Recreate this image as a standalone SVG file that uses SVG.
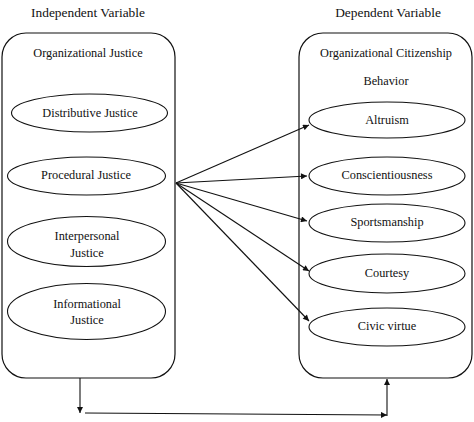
<svg xmlns="http://www.w3.org/2000/svg" width="474" height="422" viewBox="0 0 474 422" font-family="Liberation Serif, Times New Roman, serif">
<style>
text{font-size:12.3px;fill:#111;text-anchor:middle}
.title{font-size:13.4px}
.box{fill:none;stroke:#111;stroke-width:1.2}
.ell{fill:#fff;stroke:#111;stroke-width:1.1}
.conn{fill:none;stroke:#111;stroke-width:1.1}
</style>
<defs>
<marker id="ah" viewBox="0 0 10 10" refX="10" refY="5" markerWidth="7" markerHeight="6" markerUnits="userSpaceOnUse" orient="auto">
<path d="M0,0 L10,5 L0,10 Z" fill="#111"/>
</marker>
</defs>
<rect width="474" height="422" fill="#fff"/>
<text class="title" x="88" y="17">Independent Variable</text>
<text class="title" x="388" y="17">Dependent Variable</text>
<g id="independent">
<rect class="box" x="2" y="33" width="173" height="345" rx="24" ry="24"/>
<text x="88" y="57">Organizational Justice</text>
</g>
<g id="dependent">
<rect class="box" x="299" y="33" width="173" height="345" rx="24" ry="24"/>
<text x="386" y="57">Organizational Citizenship</text>
<text x="386" y="85">Behavior</text>
</g>
<g id="distributive">
<ellipse class="ell" cx="89.5" cy="113" rx="78" ry="19"/>
<text x="90" y="117">Distributive Justice</text>
</g>
<g id="procedural">
<ellipse class="ell" cx="86.5" cy="176" rx="79" ry="19"/>
<text x="86" y="179">Procedural Justice</text>
</g>
<g id="interpersonal">
<ellipse class="ell" cx="86.5" cy="241.5" rx="79" ry="25"/>
<text x="87" y="240">Interpersonal</text>
<text x="87" y="257">Justice</text>
</g>
<g id="informational">
<ellipse class="ell" cx="86.5" cy="311.5" rx="79" ry="28"/>
<text x="87" y="308">Informational</text>
<text x="87" y="324">Justice</text>
</g>
<g id="altruism">
<ellipse class="ell" cx="387" cy="120" rx="78" ry="18"/>
<text x="387" y="124">Altruism</text>
</g>
<g id="conscientiousness">
<ellipse class="ell" cx="387" cy="176" rx="78" ry="19"/>
<text x="387" y="179">Conscientiousness</text>
</g>
<g id="sportsmanship">
<ellipse class="ell" cx="387" cy="223" rx="78" ry="19"/>
<text x="387" y="226">Sportsmanship</text>
</g>
<g id="courtesy">
<ellipse class="ell" cx="387" cy="273.5" rx="78" ry="19.5"/>
<text x="387" y="277">Courtesy</text>
</g>
<g id="civic">
<ellipse class="ell" cx="387" cy="327" rx="78" ry="19"/>
<text x="387" y="330">Civic virtue</text>
</g>
<g id="connectors">
<line class="conn" x1="176" y1="183" x2="309" y2="125" marker-end="url(#ah)"/>
<line class="conn" x1="176" y1="183" x2="307" y2="176" marker-end="url(#ah)"/>
<line class="conn" x1="176" y1="183" x2="307" y2="221" marker-end="url(#ah)"/>
<line class="conn" x1="176" y1="183" x2="309" y2="271" marker-end="url(#ah)"/>
<line class="conn" x1="176" y1="183" x2="309" y2="321" marker-end="url(#ah)"/>
<line class="conn" x1="80" y1="378" x2="80" y2="413" marker-end="url(#ah)"/>
<line class="conn" x1="85" y1="413" x2="387" y2="415" marker-end="url(#ah)"/>
<line class="conn" x1="387" y1="416" x2="387" y2="379" marker-end="url(#ah)"/>
</g>
</svg>
